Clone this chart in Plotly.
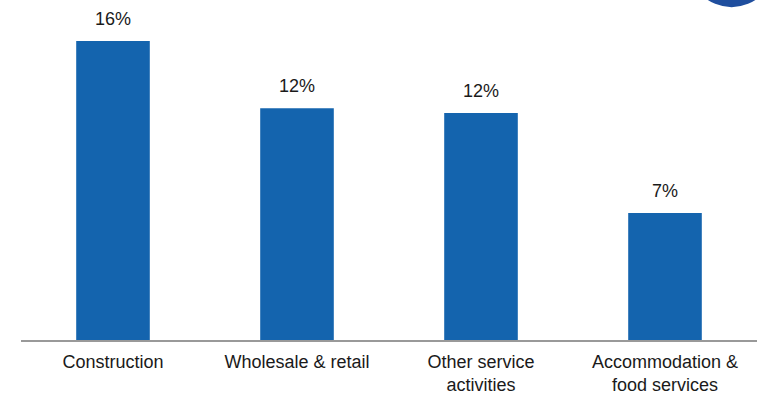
import plotly.graph_objects as go

categories = ["Construction", "Wholesale & retail", "Other service<br>activities", "Accommodation &<br>food services"]
values = [16.0, 12.4, 12.15, 6.8]
labels = ["16%", "12%", "12%", "7%"]

bar_color = "#1464AE"
font_family = "Liberation Sans, Arial, sans-serif"

fig = go.Figure()
fig.add_trace(go.Bar(x=categories, y=values, marker=dict(color=bar_color, line=dict(width=0)),
                     hoverinfo="skip"))

for c, v, t in zip(categories, values, labels):
    fig.add_annotation(x=c, y=v, text=t, showarrow=False, yanchor="bottom", yshift=10,
                       font=dict(size=18, color="#1a1a1a", family=font_family))

fig.add_shape(type="circle", xref="paper", yref="paper",
              x0=0.907, x1=1.024, y0=0.979, y1=1.232,
              fillcolor="#1F4E9E", line=dict(width=0), layer="above")

fig.update_layout(
    width=763, height=394,
    margin=dict(l=21, r=6, t=0, b=54),
    paper_bgcolor="white", plot_bgcolor="white",
    bargap=0.6, showlegend=False,
    font=dict(family=font_family, size=18, color="#1a1a1a"),
)
fig.update_xaxes(showline=True, linecolor="#999999", linewidth=2, ticks="outside", ticklen=4,
                 tickcolor="rgba(0,0,0,0)", tickfont=dict(size=18, color="#1a1a1a"))
fig.update_yaxes(range=[0, 18.19], visible=False, showgrid=False, zeroline=False)

fig.write_html("out.html")
